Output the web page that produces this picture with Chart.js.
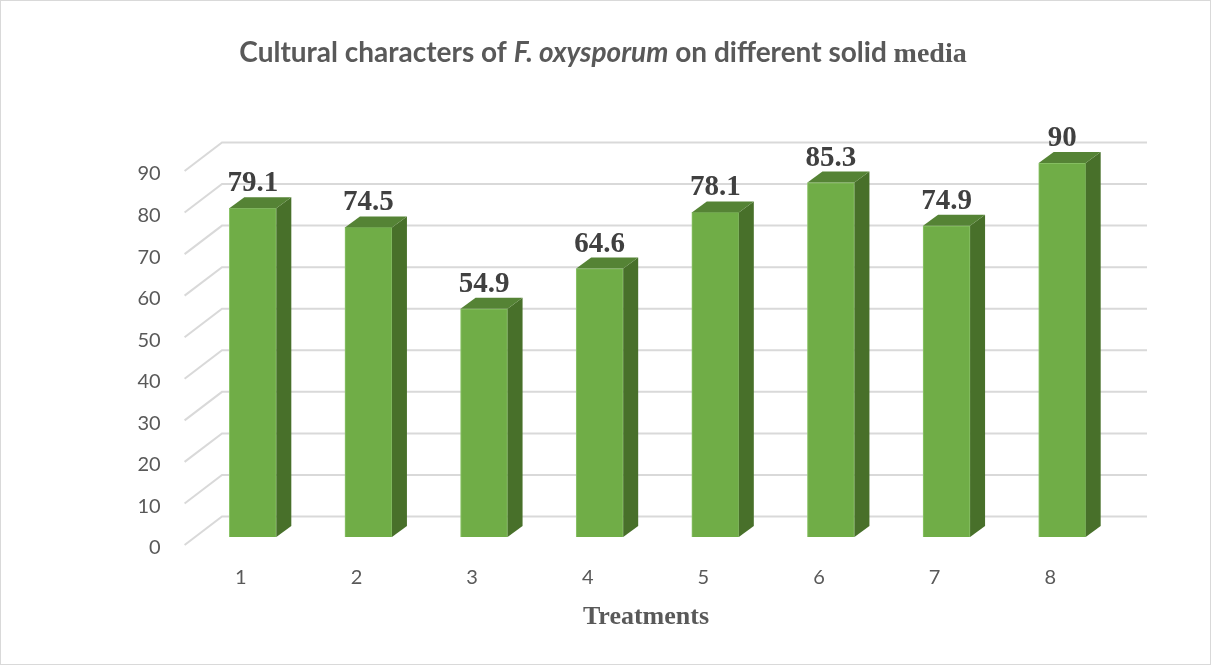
<!DOCTYPE html>
<html>
<head>
<meta charset="utf-8">
<script src="https://cdn.jsdelivr.net/npm/chart.js@4.4.1/dist/chart.umd.min.js"></script>
<style>
    html, body { margin: 0; padding: 0; background: #fff; }
    #wrap { width: 1211px; height: 665px; position: relative; }
</style>
</head>
<body>
<div id="wrap"><canvas id="chart"></canvas></div>
<script>
// data
const categories = ['1', '2', '3', '4', '5', '6', '7', '8'];
const values = [79.1, 74.5, 54.9, 64.6, 78.1, 85.3, 74.9, 90];
const yMin = 0;
const yMax = 90;
const yStep = 10;

const xTitle = 'Treatments';
const titleRuns = [
    { text: 'Cultural characters of ', font: 'bold 28px Lato, "Open Sans", sans-serif' },
    { text: 'F. oxysporum', font: 'italic bold 28px Lato, "Open Sans", sans-serif' },
    { text: ' on different solid ', font: 'bold 28px Lato, "Open Sans", sans-serif' },
    { text: 'media', font: 'bold 28px "Liberation Serif", "Times New Roman", serif' },
];

// 3d look
const BAR_DEPTH = { dx: 15, dy: 11 };
const WALL = { dx: 27, dy: 20.5 };
const FRONT = { dx: -10.4, dy: 8 };
const GRID = '#d9d9d9';
const FRONT_FACE = '#70ad47';
const SIDE_FACE = '#48702a';
const TOP_FACE = '#558335';

const fakeThreeD = {
    id: 'fakeThreeD',
    beforeDraw(chart) {
        const ctx = chart.ctx;
        ctx.save();
        ctx.fillStyle = '#fff';
        ctx.fillRect(0, 0, chart.width, chart.height);
        ctx.strokeStyle = GRID;
        ctx.lineWidth = 1;
        ctx.strokeRect(0.5, 0.5, chart.width - 1, chart.height - 1);
        ctx.restore();
    },
    beforeDatasetsDraw(chart) {
        const ctx = chart.ctx;
        const ca = chart.chartArea;
        const y = chart.scales.y;
        const x = chart.scales.x;
        ctx.save();
        ctx.strokeStyle = GRID;
        ctx.lineWidth = 2;
        y.ticks.forEach(t => {
            const yb = y.getPixelForValue(t.value);
            ctx.beginPath();
            ctx.moveTo(ca.left + FRONT.dx, yb + FRONT.dy);
            ctx.lineTo(ca.left + WALL.dx, yb - WALL.dy);
            ctx.lineTo(ca.right + WALL.dx, yb - WALL.dy);
            ctx.stroke();
        });

        // tick labels on the front plane
        ctx.fillStyle = '#595959';
        ctx.font = '20px Lato, "Open Sans", sans-serif';
        ctx.textAlign = 'right';
        ctx.textBaseline = 'middle';
        y.ticks.forEach(t => {
            const yb = y.getPixelForValue(t.value);
            ctx.fillText(String(t.value), ca.left + FRONT.dx - 24, yb + FRONT.dy + 3);
        });
        ctx.textAlign = 'center';
        categories.forEach((c, i) => {
            ctx.fillText(c, x.getPixelForTick(i) - 12, ca.bottom + 41);
        });

        ctx.fillStyle = '#595959';
        ctx.font = 'bold 26px "Liberation Serif", "Times New Roman", serif';
        ctx.textBaseline = 'alphabetic';
        ctx.fillText(xTitle, 646, ca.bottom + 87);
        ctx.restore();
    },
    afterDatasetsDraw(chart) {
        const ctx = chart.ctx;
        const meta = chart.getDatasetMeta(0);
        ctx.save();
        meta.data.forEach((bar, i) => {
            const p = bar.getProps(['x', 'y', 'base', 'width'], true);
            const l = p.x - p.width / 2;
            const r = p.x + p.width / 2;
            const top = p.y;
            const base = p.base;
            // side
            ctx.fillStyle = SIDE_FACE;
            ctx.beginPath();
            ctx.moveTo(r, top);
            ctx.lineTo(r + BAR_DEPTH.dx, top - BAR_DEPTH.dy);
            ctx.lineTo(r + BAR_DEPTH.dx, base - BAR_DEPTH.dy);
            ctx.lineTo(r, base);
            ctx.closePath();
            ctx.fill();
            // top
            ctx.fillStyle = TOP_FACE;
            ctx.beginPath();
            ctx.moveTo(l, top);
            ctx.lineTo(l + BAR_DEPTH.dx, top - BAR_DEPTH.dy);
            ctx.lineTo(r + BAR_DEPTH.dx, top - BAR_DEPTH.dy);
            ctx.lineTo(r, top);
            ctx.closePath();
            ctx.fill();

            // value label
            ctx.fillStyle = '#404040';
            ctx.font = 'bold 29px "Liberation Serif", "Times New Roman", serif';
            ctx.textAlign = 'center';
            ctx.textBaseline = 'alphabetic';
            ctx.fillText(String(values[i]), p.x, top - BAR_DEPTH.dy - 6);
        });
        ctx.restore();
    },
    afterDraw(chart) {
        const ctx = chart.ctx;
        ctx.save();
        ctx.fillStyle = '#595959';
        ctx.textBaseline = 'alphabetic';
        ctx.textAlign = 'left';
        let total = 0;
        titleRuns.forEach(run => {
            ctx.font = run.font;
            total += ctx.measureText(run.text).width;
        });
        let xPos = 603 - total / 2;
        titleRuns.forEach(run => {
            ctx.font = run.font;
            ctx.fillText(run.text, xPos, 62);
            xPos += ctx.measureText(run.text).width;
        });
        ctx.restore();
    }
};

new Chart(document.getElementById('chart'), {
    type: 'bar',
    data: {
        labels: categories,
        datasets: [{
            data: values,
            backgroundColor: FRONT_FACE,
            borderColor: '#8cc46a',
            borderWidth: 1,
            barThickness: 47
        }]
    },
    options: {
        responsive: true,
        maintainAspectRatio: false,
        animation: false,
        layout: { padding: { left: 195, right: 91, top: 163, bottom: 128 } },
        plugins: {
            legend: { display: false },
            tooltip: { enabled: false },
            title: { display: false }
        },
        scales: {
            x: { display: false, grid: { display: false } },
            y: {
                display: false,
                min: yMin,
                max: yMax,
                ticks: { stepSize: yStep }
            }
        }
    },
    plugins: [fakeThreeD]
});
</script>
</body>
</html>
